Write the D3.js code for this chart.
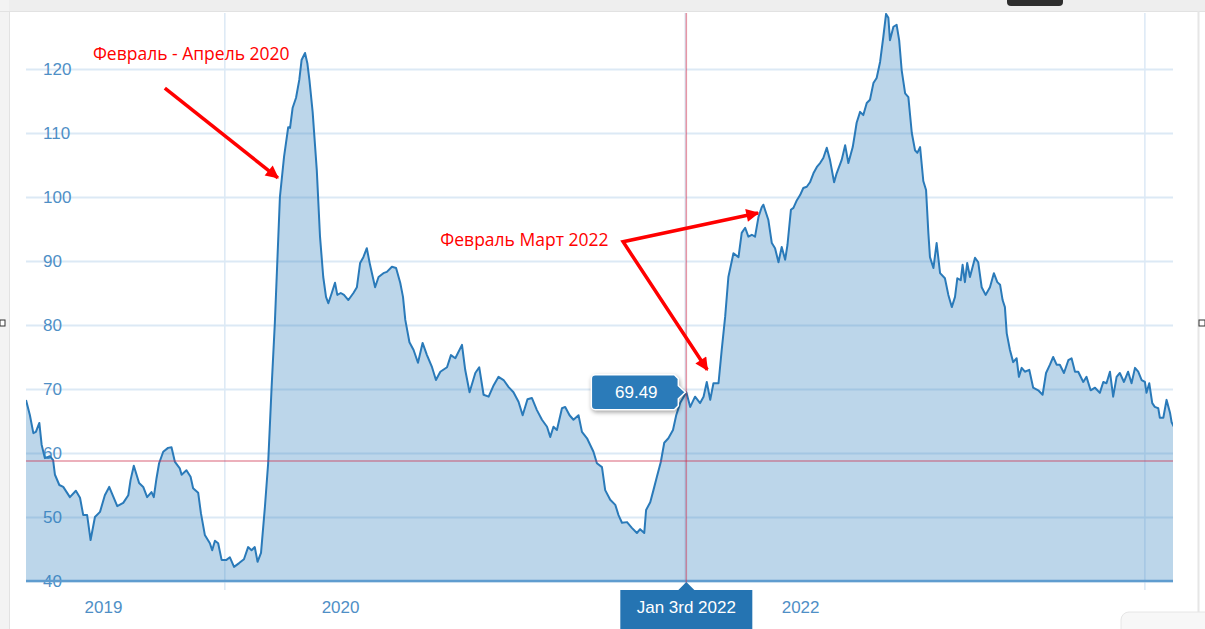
<!DOCTYPE html>
<html>
  <head>
    <meta charset="utf-8">
    <title>Price chart</title>
    <script src="https://d3js.org/d3.v7.min.js"></script>
    <style>
      body { margin: 0; background: #fff; }
      svg { display: block; }
      .axis .domain { display: none; }
      .axis text {
        font-family: "Liberation Sans", Arial, sans-serif;
        font-size: 17px;
        fill: #4f8fc6;
      }
      .axis--y .tick line { stroke: #dce9f5; stroke-width: 2px; }
      .axis--x .tick line { display: none; }
      .note {
        font-family: "Open Sans", sans-serif;
        font-size: 17.5px;
        fill: #ff0000;
      }
      .tip text {
        font-family: "Liberation Sans", Arial, sans-serif;
        font-size: 17px;
        fill: #ffffff;
        text-anchor: middle;
      }
    </style>
  </head>
  <body>
    <svg width="1205" height="629"></svg>
    <script>
      // decimal year of each reading
      const years = [
        2019.135, 2019.152, 2019.167, 2019.178, 2019.193, 2019.203, 2019.217, 2019.239, 2019.253, 2019.261,
        2019.280, 2019.297, 2019.326, 2019.352, 2019.370, 2019.384, 2019.401, 2019.416, 2019.435, 2019.457,
        2019.478, 2019.497, 2019.512, 2019.532, 2019.558, 2019.580, 2019.590, 2019.604, 2019.627, 2019.645,
        2019.662, 2019.681, 2019.691, 2019.703, 2019.714, 2019.732, 2019.753, 2019.768, 2019.783, 2019.804,
        2019.812, 2019.833, 2019.851, 2019.862, 2019.884, 2019.896, 2019.913, 2019.935, 2019.945, 2019.957,
        2019.971, 2019.986, 2020.007, 2020.022, 2020.040, 2020.062, 2020.083, 2020.101, 2020.116, 2020.130,
        2020.142, 2020.157, 2020.174, 2020.188, 2020.203, 2020.217, 2020.239, 2020.257, 2020.275, 2020.283,
        2020.294, 2020.309, 2020.323, 2020.333, 2020.348, 2020.358, 2020.367, 2020.381, 2020.399, 2020.413,
        2020.427, 2020.439, 2020.449, 2020.464, 2020.478, 2020.488, 2020.503, 2020.517, 2020.536, 2020.558,
        2020.573, 2020.587, 2020.601, 2020.616, 2020.630, 2020.652, 2020.667, 2020.688, 2020.703, 2020.725,
        2020.743, 2020.761, 2020.773, 2020.783, 2020.801, 2020.819, 2020.838, 2020.858, 2020.877, 2020.899,
        2020.916, 2020.935, 2020.964, 2020.981, 2021.000, 2021.029, 2021.043, 2021.062, 2021.087, 2021.104,
        2021.123, 2021.145, 2021.167, 2021.188, 2021.210, 2021.232, 2021.253, 2021.275, 2021.293, 2021.314,
        2021.333, 2021.355, 2021.377, 2021.399, 2021.413, 2021.427, 2021.442, 2021.464, 2021.478, 2021.497,
        2021.514, 2021.536, 2021.551, 2021.573, 2021.601, 2021.616, 2021.638, 2021.652, 2021.674, 2021.696,
        2021.710, 2021.725, 2021.747, 2021.768, 2021.790, 2021.804, 2021.822, 2021.830, 2021.848, 2021.862,
        2021.877, 2021.894, 2021.909, 2021.927, 2021.947, 2021.961, 2021.978, 2022.005, 2022.022, 2022.043,
        2022.065, 2022.080, 2022.094, 2022.109, 2022.123, 2022.145, 2022.159, 2022.174, 2022.188, 2022.210,
        2022.232, 2022.246, 2022.261, 2022.275, 2022.290, 2022.304, 2022.319, 2022.333, 2022.340, 2022.352,
        2022.362, 2022.377, 2022.391, 2022.406, 2022.420, 2022.435, 2022.445, 2022.460, 2022.471, 2022.486,
        2022.500, 2022.514, 2022.529, 2022.543, 2022.558, 2022.573, 2022.587, 2022.601, 2022.616, 2022.630,
        2022.648, 2022.659, 2022.681, 2022.696, 2022.710, 2022.729, 2022.739, 2022.746, 2022.761, 2022.775,
        2022.790, 2022.804, 2022.819, 2022.833, 2022.848, 2022.862, 2022.874, 2022.884, 2022.891, 2022.906,
        2022.920, 2022.931, 2022.942, 2022.957, 2022.971, 2022.986, 2023.000, 2023.010, 2023.022, 2023.036,
        2023.048, 2023.058, 2023.065, 2023.080, 2023.094, 2023.109, 2023.130, 2023.145, 2023.160, 2023.174,
        2023.184, 2023.199, 2023.207, 2023.217, 2023.227, 2023.239, 2023.261, 2023.275, 2023.290, 2023.307,
        2023.326, 2023.343, 2023.358, 2023.370, 2023.381, 2023.391, 2023.399, 2023.413, 2023.427, 2023.442,
        2023.452, 2023.464, 2023.478, 2023.497, 2023.514, 2023.536, 2023.555, 2023.570, 2023.587, 2023.601,
        2023.616, 2023.630, 2023.648, 2023.667, 2023.681, 2023.696, 2023.710, 2023.732, 2023.746, 2023.764,
        2023.783, 2023.804, 2023.819, 2023.833, 2023.848, 2023.862, 2023.877, 2023.891, 2023.909, 2023.927,
        2023.942, 2023.957, 2023.971, 2023.986, 2024.000, 2024.007, 2024.019, 2024.032, 2024.043, 2024.058,
        2024.065, 2024.080, 2024.094, 2024.109, 2024.116, 2024.126
      ];

      const prices = [
        68.3, 65.9, 63.1, 63.3, 64.7, 61.3, 59.2, 59.5, 58.9, 56.6,
        55.0, 54.7, 53.1, 54.1, 53.0, 50.3, 50.3, 46.4, 50.0, 50.8,
        53.4, 54.7, 53.4, 51.7, 52.2, 53.4, 55.8, 58.0, 55.3, 54.7,
        53.1, 53.9, 53.1, 56.1, 58.4, 60.2, 60.8, 60.9, 58.6, 57.6,
        56.6, 57.3, 56.3, 54.5, 53.8, 50.6, 47.2, 45.9, 44.8, 46.3,
        45.9, 43.3, 43.3, 43.7, 42.2, 42.8, 43.4, 45.3, 44.8, 45.3,
        43.0, 44.4, 51.6, 58.4, 70.3, 80.3, 100.0, 106.3, 110.9, 110.8,
        113.9, 115.5, 118.3, 121.4, 122.5, 120.9, 118.3, 113.3, 104.2, 93.8,
        87.5, 84.4, 83.4, 85.0, 86.6, 84.7, 85.0, 84.7, 83.9, 85.0,
        85.9, 89.7, 90.6, 92.0, 89.4, 85.9, 87.5, 88.1, 88.3, 89.1,
        88.9, 86.6, 84.4, 80.8, 77.3, 76.1, 74.1, 77.2, 75.3, 73.4,
        71.4, 72.7, 73.4, 75.3, 74.8, 76.9, 73.0, 69.5, 72.5, 73.4,
        69.1, 68.8, 70.6, 71.9, 71.4, 70.3, 69.5, 68.0, 65.9, 68.4,
        68.6, 66.7, 65.2, 64.1, 62.5, 64.1, 63.6, 67.0, 67.2, 65.9,
        65.2, 65.9, 63.3, 62.3, 60.2, 58.4, 57.8, 54.2, 52.7, 51.9,
        50.3, 49.1, 49.2, 48.3, 47.5, 48.1, 47.5, 51.1, 52.3, 54.2,
        56.3, 58.6, 61.6, 62.3, 63.6, 65.9, 67.8, 69.49, 67.2, 68.8,
        67.8, 68.8, 71.1, 68.3, 70.9, 70.9, 76.1, 81.3, 87.5, 91.2,
        90.6, 94.4, 95.2, 93.8, 94.1, 93.8, 96.9, 98.4, 98.8, 97.5,
        96.4, 92.8, 92.0, 89.8, 92.2, 90.2, 92.5, 98.0, 98.3, 99.5,
        100.3, 101.4, 101.6, 102.3, 103.7, 104.7, 105.3, 106.1, 107.7, 105.8,
        102.3, 103.7, 105.8, 108.1, 105.3, 107.8, 110.0, 111.6, 113.3, 112.8,
        114.7, 115.2, 117.8, 118.6, 121.1, 125.0, 128.6, 128.0, 124.5, 126.6,
        126.9, 124.5, 119.8, 116.2, 115.6, 110.0, 107.3, 106.9, 107.8, 102.5,
        101.1, 94.4, 90.6, 88.9, 92.8, 88.1, 87.3, 84.7, 82.8, 84.4,
        87.3, 87.0, 89.4, 86.7, 89.7, 87.5, 90.5, 89.8, 85.9, 84.7,
        85.9, 88.1, 86.7, 86.3, 83.9, 82.8, 78.7, 76.1, 74.2, 74.8,
        71.9, 73.3, 72.7, 73.0, 70.2, 69.8, 69.1, 72.5, 73.8, 75.0,
        73.8, 73.8, 72.5, 74.5, 74.8, 72.7, 72.7, 71.1, 71.9, 69.8,
        70.2, 69.4, 71.1, 70.9, 72.7, 68.8, 71.9, 72.5, 71.1, 72.7,
        70.9, 73.3, 72.7, 71.4, 71.1, 69.4, 70.9, 67.8, 67.2, 67.0,
        65.5, 65.5, 68.3, 66.3, 64.8, 64.1
      ];

      const yTicks = [40, 50, 60, 70, 80, 90, 100, 110, 120];
      const xLabelYears = [2019.47, 2020.5, 2022.5];
      const xLabels = ["2019", "2020", "2022"];
      const xGridYears = [2020, 2022, 2024];
      const xDomainYears = [2019.135, 2024.122];
      const yDomain = [40, 128.75];

      const refLevel = 58.75;
      const hoverYear = 2022.005;
      const hoverValue = 69.49;
      const hoverLabel = "Jan 3rd 2022";

      // annotations: text anchor and arrow points, in [year, value]
      const note1 = { text: "Февраль - Апрель 2020", at: [2019.426, 121.4],
                      path: [[2019.739, 117.0], [2020.230, 103.0]] };
      const note2 = { text: "Февраль Март 2022", at: [2020.935, 92.3],
                      path: [[2022.317, 97.5], [2021.730, 93.0], [2022.096, 73.0]] };

      function toDate(y) {
        const yr = Math.floor(y);
        const a = new Date(yr, 0, 1), b = new Date(yr + 1, 0, 1);
        return new Date(+a + (y - yr) * (b - a));
      }

      const svg = d3.select("svg");
      const width = +svg.attr("width"), height = +svg.attr("height");
      const margin = { top: 13, right: 32, bottom: 48, left: 26 };
      const innerWidth = width - margin.left - margin.right;
      const innerHeight = height - margin.top - margin.bottom;

      const data = years.map((y, i) => ({ date: toDate(y), value: prices[i] }));

      const xScale = d3.scaleTime()
        .domain(xDomainYears.map(toDate))
        .range([0, innerWidth]);
      const yScale = d3.scaleLinear()
        .domain(yDomain)
        .range([innerHeight, 0]);

      // page chrome of the screenshot
      svg.append("rect").attr("width", width).attr("height", 11).attr("fill", "#eeeeee");
      svg.append("rect").attr("x", 0).attr("y", 0).attr("width", 9).attr("height", height).attr("fill", "#f3f3f3");
      svg.append("line").attr("x1", 9.5).attr("x2", 9.5).attr("y1", 11).attr("y2", height)
        .attr("stroke", "#e2e2e2");
      svg.append("line").attr("x1", 0).attr("x2", width).attr("y1", 11.5).attr("y2", 11.5)
        .attr("stroke", "#e2e2e2");
      svg.append("rect").attr("x", 1007).attr("y", -6).attr("width", 56).attr("height", 12)
        .attr("rx", 4).attr("fill", "#2e2e2e");
      svg.append("line").attr("x1", 1198.5).attr("x2", 1198.5).attr("y1", 11).attr("y2", height)
        .attr("stroke", "#e6e6e6").attr("stroke-width", 2);
      svg.append("rect").attr("x", 0).attr("y", 320).attr("width", 5).attr("height", 6)
        .attr("fill", "#fff").attr("stroke", "#333");
      svg.append("rect").attr("x", 1199).attr("y", 320).attr("width", 6).attr("height", 6)
        .attr("fill", "#fff").attr("stroke", "#333");
      svg.append("rect").attr("x", 1121).attr("y", 612).attr("width", 100).attr("height", 30)
        .attr("rx", 8).attr("fill", "#f7f7f7").attr("stroke", "#e6e6e6");

      const g = svg.append("g")
        .attr("transform", `translate(${margin.left}, ${margin.top})`);

      g.append("clipPath").attr("id", "plot")
        .append("rect").attr("width", innerWidth).attr("height", innerHeight);

      // vertical grid
      g.selectAll(".vgrid").data(xGridYears.map(toDate)).enter()
        .append("line").attr("class", "vgrid")
          .attr("x1", d => xScale(d)).attr("x2", d => xScale(d))
          .attr("y1", 0).attr("y2", innerHeight + 9)
          .attr("stroke", "#dce9f5").attr("stroke-width", 1.5);

      // y axis with grid and labels inside the plot
      const yAxisG = g.append("g").attr("class", "axis axis--y")
        .call(d3.axisLeft(yScale)
          .tickValues(yTicks)
          .tickSizeInner(-innerWidth)
          .tickSizeOuter(0));
      yAxisG.selectAll(".tick text")
        .attr("x", 17)
        .attr("text-anchor", "start");
      yAxisG.selectAll(".tick line").attr("x1", 0);

      const area = d3.area()
        .x(d => xScale(d.date))
        .y0(innerHeight)
        .y1(d => yScale(d.value));
      const line = d3.line()
        .x(d => xScale(d.date))
        .y(d => yScale(d.value));

      const plot = g.append("g").attr("clip-path", "url(#plot)");
      plot.append("path").datum(data)
        .attr("d", area)
        .attr("fill", "rgba(47,126,189,0.32)");
      plot.append("path").datum(data)
        .attr("d", line)
        .attr("fill", "none")
        .attr("stroke", "#2a7ab9")
        .attr("stroke-width", 2)
        .attr("stroke-linejoin", "round");

      // baseline
      g.append("line")
        .attr("x1", 0).attr("x2", innerWidth)
        .attr("y1", innerHeight).attr("y2", innerHeight)
        .attr("stroke", "#5f9ccf").attr("stroke-width", 2.5);

      // x axis labels
      g.append("g").attr("class", "axis axis--x")
        .attr("transform", `translate(0, ${innerHeight})`)
        .call(d3.axisBottom(xScale)
          .tickValues(xLabelYears.map(toDate))
          .tickFormat((d, i) => xLabels[i])
          .tickSize(0)
          .tickPadding(20));

      // crosshair lines
      const hx = xScale(toDate(hoverYear));
      const hy = yScale(hoverValue);
      g.append("line")
        .attr("x1", 0).attr("x2", innerWidth)
        .attr("y1", yScale(refLevel)).attr("y2", yScale(refLevel))
        .attr("stroke", "rgba(205,45,75,0.5)").attr("stroke-width", 1.5);
      g.append("line")
        .attr("x1", hx).attr("x2", hx)
        .attr("y1", 0).attr("y2", innerHeight + 4)
        .attr("stroke", "rgba(205,45,75,0.5)").attr("stroke-width", 1.5);

      // annotations
      const defs = svg.append("defs");
      defs.append("marker")
        .attr("id", "head")
        .attr("viewBox", "0 0 10 10")
        .attr("refX", 9).attr("refY", 5)
        .attr("markerUnits", "userSpaceOnUse")
        .attr("markerWidth", 17).attr("markerHeight", 13)
        .attr("orient", "auto-start-reverse")
        .append("path").attr("d", "M0,0L10,5L0,10Z").attr("fill", "#ff0000");

      const toXY = p => [xScale(toDate(p[0])), yScale(p[1])];
      [note1, note2].forEach(n => {
        const [tx, ty] = toXY(n.at);
        g.append("text").attr("class", "note")
          .attr("x", tx).attr("y", ty)
          .text(n.text);
        const pts = n.path.map(toXY);
        g.append("path")
          .attr("d", d3.line()(pts))
          .attr("fill", "none")
          .attr("stroke", "#ff0000")
          .attr("stroke-width", 3.5)
          .attr("marker-end", "url(#head)")
          .attr("marker-start", pts.length > 2 ? "url(#head)" : null);
      });

      // value tooltip
      const tip = g.append("g").attr("class", "tip");
      tip.append("path")
        .attr("d", `M${hx - 91},${hy - 17.5}h79l4,4v7l7,6.5l-7,6.5v7l-4,4h-79a4,4 0 0 1 -4,-4v-27a4,4 0 0 1 4,-4z`)
        .attr("fill", "#2b7bb9")
        .attr("stroke", "#ffffff")
        .attr("stroke-width", 1.5)
        .style("filter", "drop-shadow(1px 2px 2px rgba(0,0,0,0.35))");
      tip.append("text")
        .attr("x", hx - 50).attr("y", hy + 6)
        .text(hoverValue.toFixed(2));

      // date tooltip
      const dateTip = g.append("g").attr("class", "tip");
      dateTip.append("path")
        .attr("d", `M${hx - 66},${innerHeight + 9}h58l8,-8l8,8h58v50h-132z`)
        .attr("fill", "#2574b2");
      dateTip.append("text")
        .attr("x", hx).attr("y", innerHeight + 32)
        .text(hoverLabel);
    </script>
  </body>
</html>
